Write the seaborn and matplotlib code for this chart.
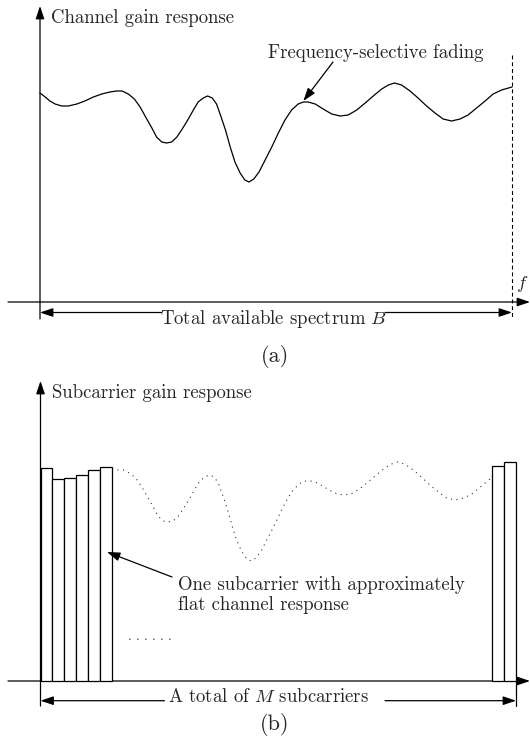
import numpy as np
import pandas as pd
import seaborn as sns
import matplotlib.pyplot as plt

# Channel gain response across the band (frequency normalised to B = 1)
freq = [0.0, 0.011, 0.021, 0.032, 0.046, 0.060, 0.078, 0.095, 0.113, 0.131,
        0.148, 0.162, 0.174, 0.187, 0.200, 0.212, 0.225, 0.237, 0.247, 0.258,
        0.268, 0.279, 0.290, 0.300, 0.313, 0.325, 0.335, 0.346, 0.355, 0.365,
        0.374, 0.383, 0.393, 0.403, 0.413, 0.424, 0.434, 0.443, 0.453, 0.464,
        0.477, 0.491, 0.505, 0.519, 0.533, 0.547, 0.558, 0.568, 0.583, 0.600,
        0.618, 0.636, 0.653, 0.671, 0.689, 0.706, 0.724, 0.738, 0.751, 0.766,
        0.784, 0.801, 0.819, 0.837, 0.854, 0.872, 0.890, 0.907, 0.925, 0.943,
        0.960, 0.978, 1.0]
gain = [2.09, 2.05, 2.01, 1.98, 1.96, 1.96, 1.98, 2.01, 2.05, 2.08,
        2.10, 2.11, 2.11, 2.08, 2.03, 1.95, 1.84, 1.74, 1.65, 1.60,
        1.59, 1.60, 1.65, 1.72, 1.82, 1.92, 2.00, 2.04, 2.06, 2.04,
        1.98, 1.86, 1.72, 1.55, 1.40, 1.29, 1.22, 1.20, 1.23, 1.30,
        1.42, 1.55, 1.69, 1.82, 1.92, 1.98, 2.00, 2.00, 1.98, 1.93,
        1.88, 1.86, 1.87, 1.92, 1.99, 2.06, 2.13, 2.17, 2.19, 2.17,
        2.11, 2.04, 1.96, 1.89, 1.83, 1.81, 1.83, 1.87, 1.94, 2.01,
        2.08, 2.12, 2.15]

# Subcarriers that are drawn (index out of M) and their flat gains
n_subcarriers = 40
sub_index = [0, 1, 2, 3, 4, 5, 38, 39]
sub_gain = [2.13, 2.02, 2.03, 2.06, 2.11, 2.14, 2.15, 2.19]

# Text
label_a_axis = "Channel gain response"
label_a_note = "Frequency-selective fading"
label_a_span = "Total available spectrum $B$"
label_a_f = "$f$"
label_b_axis = "Subcarrier gain response"
label_b_note = "One subcarrier with approximately\nflat channel response"
label_b_dots = ". . . . . ."
label_b_span = "A total of $M$ subcarriers"
caption_a = "(a)"
caption_b = "(b)"

sns.set_theme(style="white")
plt.rcParams["font.family"] = ["cmr10"]
plt.rcParams["mathtext.fontset"] = "cm"
plt.rcParams["axes.unicode_minus"] = False

W, H = 530, 741
fig = plt.figure(figsize=(W / 100, H / 100), dpi=100)

FS = 13.5
LW = 0.9


def make_panel(band, x_origin, x_scale, y_origin):
    """Axes spanning the full width; returns pixel -> data helpers too."""
    ax = fig.add_axes([0, 1 - band[1] / H, 1, (band[1] - band[0]) / H])
    ax.set_xlim((0 - x_origin) / x_scale, (W - x_origin) / x_scale)
    ax.set_ylim((y_origin - band[1]) / 100, (y_origin - band[0]) / 100)
    ax.set_axis_off()
    fx = lambda px: (px - x_origin) / x_scale
    gy = lambda py: (y_origin - py) / 100
    return ax, fx, gy


def arrow(ax, tail, tip, lw=LW):
    ax.annotate("", xy=tip, xytext=tail, annotation_clip=False,
                arrowprops=dict(arrowstyle="-|>,head_length=0.65,head_width=0.22",
                                lw=lw, color="black", shrinkA=0, shrinkB=0))


df = pd.DataFrame({"freq": freq, "gain": gain})

# ---------------- (a) channel gain response ----------------
ax, fx, gy = make_panel((0, 372), 40, 472, 302)
arrow(ax, (fx(8), 0), (fx(530), 0))
arrow(ax, (0, gy(319)), (0, gy(6)))
ax.text(fx(51), gy(18), label_a_axis, fontsize=FS, ha="left", va="center")

sns.lineplot(data=df, x="freq", y="gain", ax=ax, color="black", lw=LW)

ax.plot([1, 1], [gy(55), gy(319)], color="black", lw=0.8,
        linestyle=(0, (3.5, 2.6)))
ax.text(fx(522), gy(284), label_a_f, fontsize=FS, ha="center", va="center")

# the arrow points at the local maximum just past mid-band
mid = df[(df.freq > 0.5) & (df.freq < 0.65)]
peak = mid.gain.idxmax()
ax.text(fx(376), gy(53), label_a_note, fontsize=FS, ha="center", va="center")
arrow(ax, (fx(333), gy(62)), (df.freq[peak], df.gain[peak] + 0.01))

span_y = gy(312.5)
arrow(ax, (fx(161.5), span_y), (0, span_y))
arrow(ax, (fx(385), span_y), (1, span_y))
ax.text(fx(274), gy(323.5), label_a_span, fontsize=FS, ha="center", va="baseline")
ax.text(fx(275), gy(356), caption_a, fontsize=16, ha="center", va="center")

# ---------------- (b) subcarrier gain response ----------------
ax, fx, gy = make_panel((372, 741), 40.5, 475.5, 681)
arrow(ax, (fx(8), 0), (fx(530), 0))
arrow(ax, (0, gy(706)), (0, gy(381)))
ax.text(fx(52), gy(393), label_b_axis, fontsize=FS, ha="left", va="center")

sns.lineplot(data=df, x="freq", y="gain", ax=ax, color="#333333", lw=0.8,
             linestyle=(0, (1, 4)), zorder=2)

width = 1 / n_subcarriers
lefts = [k * width for k in sub_index]
ax.bar(lefts, sub_gain, width=width, align="edge", facecolor="white",
       edgecolor="black", lw=LW, zorder=3)

ax.text(fx(178), gy(595), label_b_note, fontsize=FS, ha="left", va="center",
        linespacing=1.1)
arrow(ax, (fx(172), gy(577)), (fx(107), gy(552)))
ax.text(fx(150), gy(637), label_b_dots, fontsize=9.5, ha="center", va="center")

span_y = gy(700.7)
arrow(ax, (fx(164.5), span_y), (0, span_y))
arrow(ax, (fx(385), span_y), (1, span_y))
ax.plot([1, 1], [0, gy(706)], color="black", lw=LW)
ax.text(fx(268.5), gy(702), label_b_span, fontsize=FS, ha="center", va="baseline")
ax.text(fx(275), gy(725), caption_b, fontsize=16, ha="center", va="center")

fig.savefig("out.png", dpi=100, facecolor="white")
